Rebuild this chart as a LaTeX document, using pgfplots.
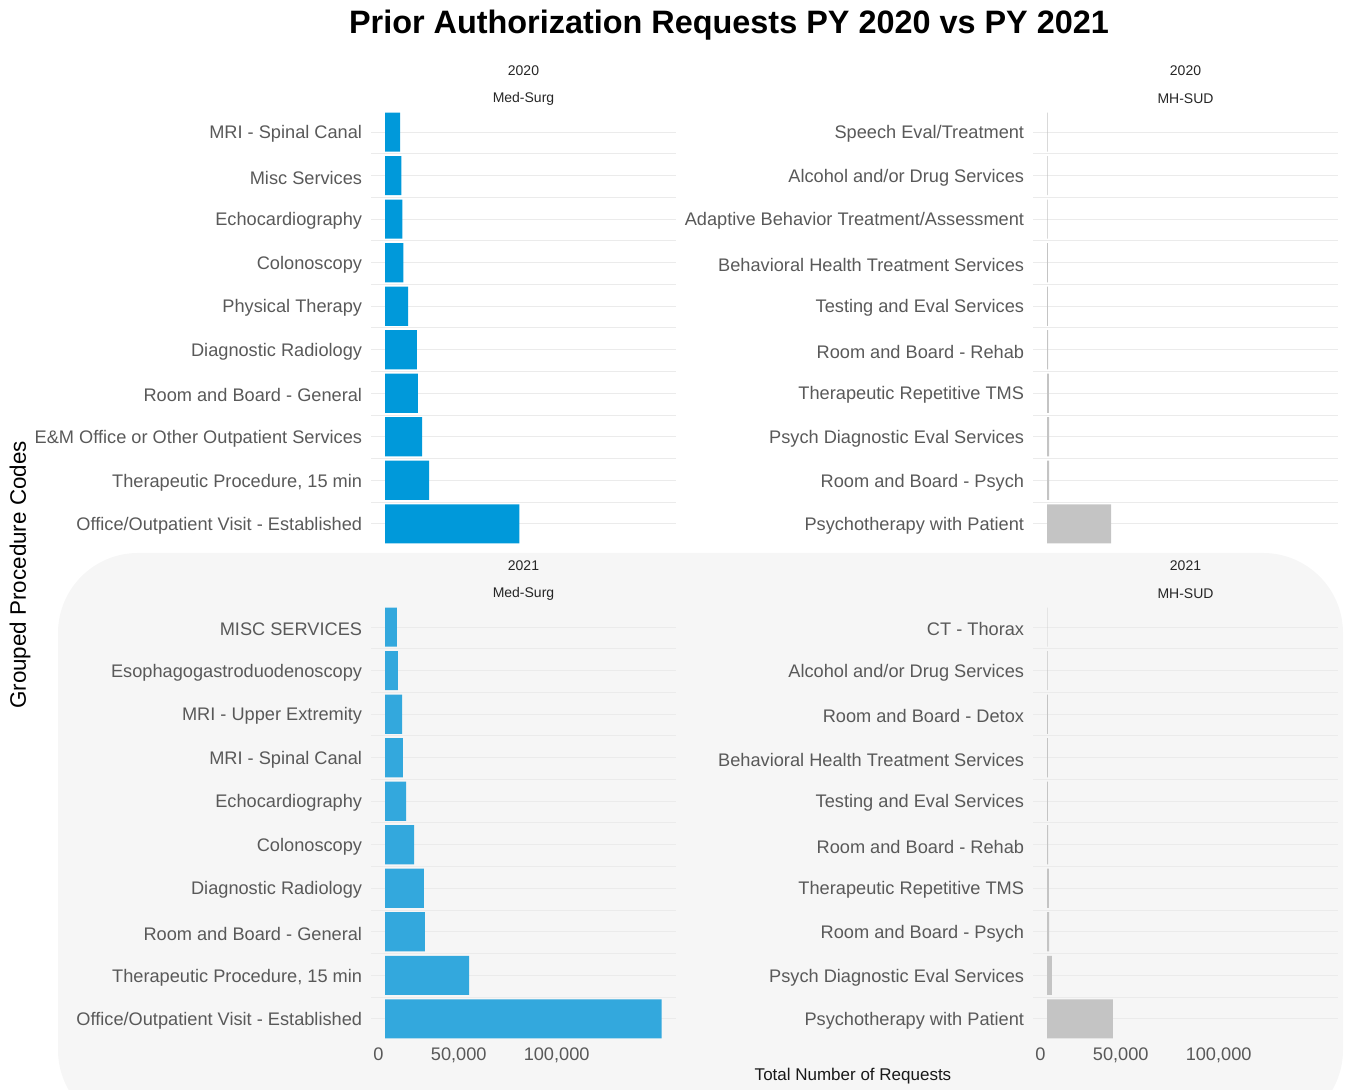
\documentclass[border=0pt]{standalone}
\usepackage{pgfplots}
\pgfplotsset{compat=1.18}
\usepackage{fontspec}
\setmainfont{Liberation Sans}

\definecolor{msblue}{HTML}{0099DA}
\definecolor{msblue2}{HTML}{33A8DD}
\definecolor{mhgray}{HTML}{C4C4C4}
\definecolor{bgpanel}{HTML}{F6F6F6}
\definecolor{gridc}{HTML}{EBEBEB}
\definecolor{labc}{HTML}{595959}

\pgfplotsset{
  panel/.style={
    scale only axis,
    width=152.5pt, height=222pt,
    anchor=south west,
    clip=false,
    xbar, bar width=0.9,
    xmin=-6800, xmax=141300,
    ymin=0.4, ymax=10.6,
    ytick={1,...,10},
    minor ytick={1.5,2.5,...,9.5},
    ymajorgrids, yminorgrids,
    major grid style={gridc, line width=0.5pt},
    minor grid style={gridc, line width=0.5pt},
    axis line style={draw=none},
    tick style={draw=none},
    scaled x ticks=false,
    xtick={0,50000,100000},
    xticklabels={},
    yticklabel style={font=\fontsize{9.1}{10}\selectfont, text=labc, inner sep=0pt, yshift=-1pt},
    xticklabel style={font=\fontsize{9.1}{10}\selectfont, text=labc, inner sep=0pt, anchor=north east, yshift=-1pt, xshift=-0.5pt},
  },
  showx/.style={xticklabels={0,{50,000},{100,000}}},
}
\newcommand{\striplab}[2]{%
  \node[font=\fontsize{7}{8}\selectfont, text=black!85] at (rel axis cs:0.5,1) [yshift=17.5pt] {#1};
  \node[font=\fontsize{7}{8}\selectfont, text=black!85] at (rel axis cs:0.5,1) [yshift=3.5pt] {#2};}

\begin{document}
\begin{tikzpicture}
\useasboundingbox (0,0) rectangle (672.5pt,545pt);
\fill[bgpanel, rounded corners=40pt] (29pt,-20pt) rectangle (671.5pt,268.5pt);

\node[font=\fontsize{16.2}{18}\selectfont\bfseries] at (364.5pt,532.5pt) {Prior Authorization Requests PY 2020 vs PY 2021};
\node[font=\fontsize{11.2}{12}\selectfont, rotate=90] at (10pt,257.5pt) {Grouped Procedure Codes};
\node[font=\fontsize{8.5}{10}\selectfont, text=black!90] at (426.5pt,7pt) {Total Number of Requests};

% 2020 Med-Surg
\begin{axis}[panel, at={(185.5pt,270pt)},
  yticklabels={Office/Outpatient Visit - Established,{Therapeutic Procedure, 15 min},E\&M Office or Other Outpatient Services,Room and Board - General,Diagnostic Radiology,Physical Therapy,Colonoscopy,Echocardiography,Misc Services,MRI - Spinal Canal}]
\addplot[fill=msblue, draw=none] coordinates {(65200,1) (21400,2) (18000,3) (16000,4) (15500,5) (11200,6) (8900,7) (8400,8) (7900,9) (7300,10)};
\striplab{2020}{Med-Surg}
\end{axis}

% 2020 MH-SUD
\begin{axis}[panel, at={(516.5pt,270pt)},
  yticklabels={Psychotherapy with Patient,Room and Board - Psych,Psych Diagnostic Eval Services,Therapeutic Repetitive TMS,Room and Board - Rehab,Testing and Eval Services,Behavioral Health Treatment Services,Adaptive Behavior Treatment/Assessment,Alcohol and/or Drug Services,Speech Eval/Treatment}]
\addplot[fill=mhgray, draw=none] coordinates {(31100,1) (1000,2) (1000,3) (900,4) (500,5) (450,6) (400,7) (350,8) (300,9) (300,10)};
\striplab{2020}{MH-SUD}
\end{axis}

% 2021 Med-Surg
\begin{axis}[panel, showx, at={(185.5pt,22.5pt)},
  yticklabels={Office/Outpatient Visit - Established,{Therapeutic Procedure, 15 min},Room and Board - General,Diagnostic Radiology,Colonoscopy,Echocardiography,MRI - Spinal Canal,MRI - Upper Extremity,Esophagogastroduodenoscopy,MISC SERVICES}]
\addplot[fill=msblue2, draw=none] coordinates {(134300,1) (40800,2) (19400,3) (18900,4) (14100,5) (10200,6) (8700,7) (8300,8) (6300,9) (5800,10)};
\striplab{2021}{Med-Surg}
\end{axis}

% 2021 MH-SUD
\begin{axis}[panel, showx, at={(516.5pt,22.5pt)},
  yticklabels={Psychotherapy with Patient,Psych Diagnostic Eval Services,Room and Board - Psych,Therapeutic Repetitive TMS,Room and Board - Rehab,Testing and Eval Services,Behavioral Health Treatment Services,Room and Board - Detox,Alcohol and/or Drug Services,CT - Thorax}]
\addplot[fill=mhgray, draw=none] coordinates {(32000,1) (2400,2) (1000,3) (900,4) (500,5) (450,6) (400,7) (400,8) (300,9) (200,10)};
\striplab{2021}{MH-SUD}
\end{axis}
\end{tikzpicture}
\end{document}
